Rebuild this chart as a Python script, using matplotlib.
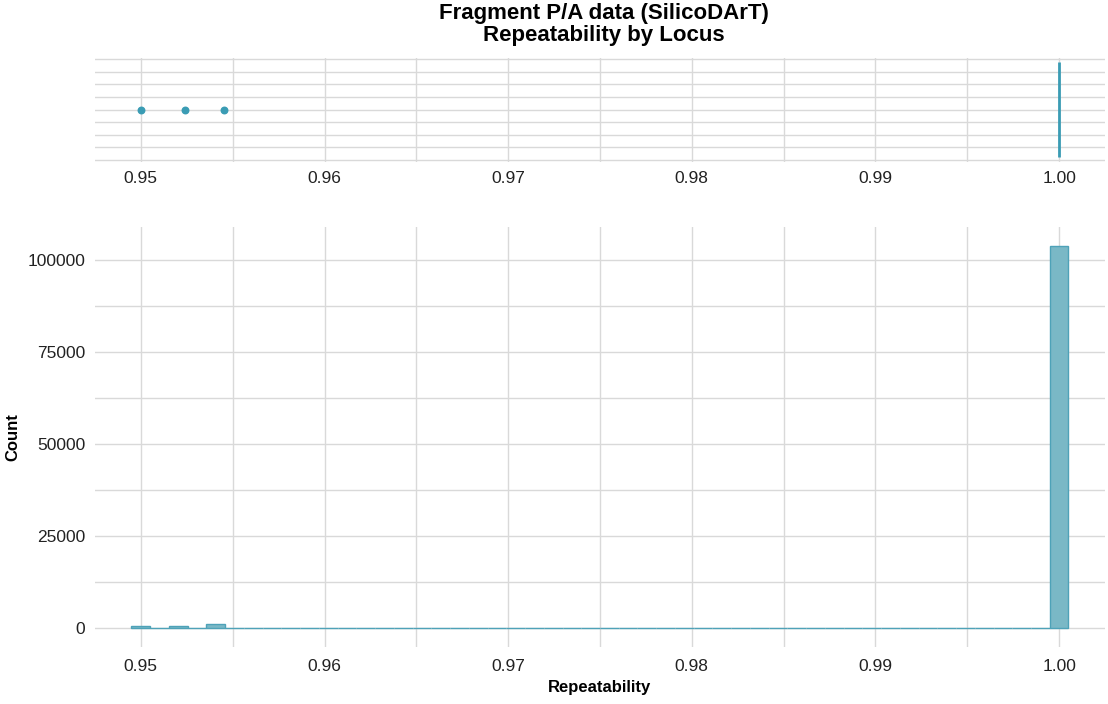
import numpy as np
import matplotlib
matplotlib.use('Agg')
import matplotlib.pyplot as plt

# repeatability values per locus (collapsed) and how many loci have each
rep_values = [19 / 20, 20 / 21, 21 / 22, 1.0]
rep_counts = [450, 450, 1000, 103800]
outliers = [19 / 20, 20 / 21, 21 / 22]

x_ticks = [0.95, 0.96, 0.97, 0.98, 0.99, 1.00]
x_labels = ['0.95', '0.96', '0.97', '0.98', '0.99', '1.00']
y_ticks = [0, 25000, 50000, 75000, 100000]

point_col = '#3a9cb4'
fill_col = '#7ab8c6'
edge_col = '#4ea2b8'
grid_col = '#d9d9d9'

plt.rcParams['font.family'] = ['Liberation Sans', 'DejaVu Sans']

fig = plt.figure(figsize=(11.08, 7.04), dpi=100)
ax1 = fig.add_axes([0.0857, 0.7705, 0.9116, 0.1477])
ax2 = fig.add_axes([0.0857, 0.081, 0.9116, 0.5966])

xmin, xmax = 0.9475, 1.0025


def style(ax):
    for s in ax.spines.values():
        s.set_visible(False)
    ax.set_xlim(xmin, xmax)
    ax.set_xticks(x_ticks)
    ax.set_xticklabels(x_labels)
    ax.set_xticks(np.arange(0.955, 1.0, 0.01), minor=True)
    ax.tick_params(which='both', length=0, labelsize=12.5, colors='#222222', pad=7)
    ax.grid(which='both', color=grid_col, linewidth=1.0)
    ax.set_axisbelow(True)


# top panel: boxplot of repeatability by locus
style(ax1)
ax1.set_ylim(-0.4125, 0.4125)
ax1.set_yticks(np.arange(-0.4, 0.41, 0.2))
ax1.set_yticks(np.arange(-0.3, 0.31, 0.2), minor=True)
ax1.set_yticklabels([])
ax1.vlines(1.0, -0.375, 0.375, color=point_col, linewidth=2)
ax1.scatter(outliers, np.zeros(len(outliers)), s=22, color=point_col, zorder=3)

# bottom panel: histogram
style(ax2)
ax2.tick_params(axis='x', pad=9)
w = (1.0 - 0.95) / 49
ax2.hist(rep_values, weights=rep_counts, bins=50, range=(0.95 - w / 2, 1.0 + w / 2),
         color=fill_col, edgecolor=edge_col, linewidth=1)
ax2.set_ylim(-5200, 109000)
ax2.set_yticks(y_ticks)
ax2.set_yticks([12500, 37500, 62500, 87500], minor=True)
ax2.set_xlabel('Repeatability', fontsize=12, fontweight='bold', labelpad=4)
ax2.set_ylabel('Count', fontsize=12, fontweight='bold', labelpad=5)

fig.text(0.545, 0.996, 'Fragment P/A data (SilicoDArT)\nRepeatability by Locus',
         ha='center', va='top', fontsize=16, fontweight='bold', linespacing=1.07)

fig.savefig('out.png', dpi=100, facecolor='white')
